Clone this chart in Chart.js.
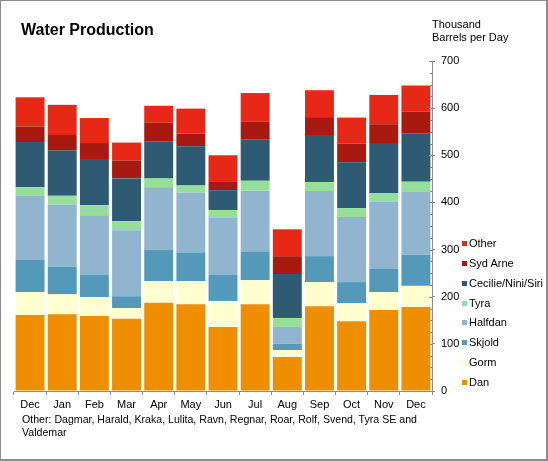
<!DOCTYPE html>
<html>
<head>
<meta charset="utf-8">
<script src="https://cdn.jsdelivr.net/npm/chart.js@4/dist/chart.umd.min.js"></script>
<style>
  html, body { margin: 0; padding: 0; background: #fff; }
  #wrap { position: relative; width: 548px; height: 461px; overflow: hidden; font-family: "Liberation Sans", Arial, sans-serif; color: #000; }
  #c { position: absolute; left: 0; top: 0; }
  #frame { position: absolute; left: 0; top: 0; width: 548px; height: 461px; box-sizing: border-box;
           border-left: 1px solid #8c8c8c; border-top: 1px solid #8c8c8c; border-right: 2px solid #8c8c8c; border-bottom: 2px solid #8c8c8c; pointer-events: none; }
  #title { position: absolute; left: 21px; top: 21px; font-weight: bold; font-size: 16px; white-space: nowrap; }
  #unit { position: absolute; left: 432px; top: 18px; font-size: 11px; line-height: 13px; white-space: nowrap; }
  #note { position: absolute; left: 22px; top: 413px; font-size: 10.6px; line-height: 13px; white-space: nowrap; }
  .lg { position: absolute; left: 462px; font-size: 11px; line-height: 13px; white-space: nowrap; }
  .lg i { position: absolute; left: 0; top: 4px; width: 5px; height: 5px; }
  .lg span { position: absolute; left: 7px; top: 0; }
</style>
</head>
<body>
<div id="wrap">
  <canvas id="c" width="548" height="461"></canvas>
  <div id="title">Water Production</div>
  <div id="unit">Thousand<br>Barrels per Day</div>
  <div id="note">Other: Dagmar, Harald, Kraka, Lulita, Ravn, Regnar, Roar, Rolf, Svend, Tyra SE and<br>Valdemar</div>
  <div id="legend"></div>
  <div id="frame"></div>
</div>
<script>
const months = ['Dec','Jan','Feb','Mar','Apr','May','Jun','Jul','Aug','Sep','Oct','Nov','Dec'];
const yTicks = [0,100,200,300,400,500,600,700];

const dan     = [161,163,159,153,187,184,136,184,72,180,148,172,178];
const gorm    = [49,42,40,23,46,49,55,51,15,51,38,38,45];
const skjold  = [68,59,47,25,66,61,55,61,13,55,45,49,66];
const halfdan = [136,131,127,140,133,127,121,129,36,138,138,142,134];
const tyra    = [18,19,21,19,19,15,17,21,19,19,19,19,21];
const cecilie = [96,96,98,91,78,83,42,87,93,100,97,104,102];
const sydArne = [33,33,34,38,40,27,19,38,38,38,40,42,47];
const other   = [62,64,53,38,36,53,55,61,57,57,55,62,55];

const seriesNames = ['Dan','Gorm','Skjold','Halfdan','Tyra','Cecilie/Nini/Siri','Syd Arne','Other'];
const seriesData = [dan, gorm, skjold, halfdan, tyra, cecilie, sydArne, other];
const seriesColors = ['#EF8F00','#FFFFCF','#5299BA','#91B5CE','#94E09A','#2E5B73','#A81A10','#E82816'];

const FONT = "'Liberation Sans', Arial, sans-serif";
const AXIS = '#8c8c8c';

const minorTicks = {
  id: 'minorTicks',
  afterDraw(chart) {
    const y = chart.scales.y;
    const ctx = chart.ctx;
    const x0 = chart.chartArea.right;
    ctx.save();
    ctx.strokeStyle = AXIS;
    ctx.lineWidth = 1;
    for (let v = y.min; v <= y.max; v += 25) {
      const py = Math.round(y.getPixelForValue(v)) + 0.5;
      const len = (v % 100 === 0) ? 3 : 2;
      ctx.beginPath();
      ctx.moveTo(x0 - len, py);
      ctx.lineTo(x0, py);
      ctx.stroke();
    }
    ctx.restore();
  }
};

const chart = new Chart(document.getElementById('c'), {
  type: 'bar',
  data: {
    labels: months,
    datasets: seriesNames.map((n, i) => ({
      label: n,
      data: seriesData[i],
      backgroundColor: seriesColors[i],
      borderWidth: 0,
      barPercentage: 0.9,
      categoryPercentage: 1.0
    }))
  },
  options: {
    responsive: false,
    animation: false,
    devicePixelRatio: 1,
    layout: { padding: { left: 14, top: 61, right: 0, bottom: 0 } },
    plugins: { legend: { display: false }, title: { display: false }, tooltip: { enabled: false } },
    scales: {
      x: {
        stacked: true,
        grid: { display: true, drawOnChartArea: false, drawTicks: true, tickLength: 4, color: AXIS, offset: true },
        border: { display: true, color: AXIS, width: 1 },
        ticks: { color: '#000', font: { family: FONT, size: 11 }, padding: 3, maxRotation: 0, autoSkip: false },
        afterFit(s) { s.height = 70; }
      },
      y: {
        stacked: true,
        position: 'right',
        min: 0, max: 700,
        afterBuildTicks(s) { s.ticks = yTicks.map(v => ({ value: v })); },
        grid: { display: true, drawOnChartArea: false, drawTicks: true, tickLength: 3, color: AXIS },
        border: { display: true, color: AXIS, width: 1 },
        ticks: { color: '#000', font: { family: FONT, size: 11 }, padding: 6 },
        afterFit(s) { s.width = 116; }
      }
    }
  },
  plugins: [minorTicks]
});

// legend built from datasets (top of stack first)
const legendY = [243, 263, 283, 303, 322, 342, 362, 382];
const lg = document.getElementById('legend');
chart.data.datasets.slice().reverse().forEach((ds, i) => {
  const d = document.createElement('div');
  d.className = 'lg';
  d.style.top = (legendY[i] - 6.5) + 'px';
  d.innerHTML = '<i style="background:' + ds.backgroundColor + '"></i><span>' + ds.label + '</span>';
  lg.appendChild(d);
});
</script>
</body>
</html>
